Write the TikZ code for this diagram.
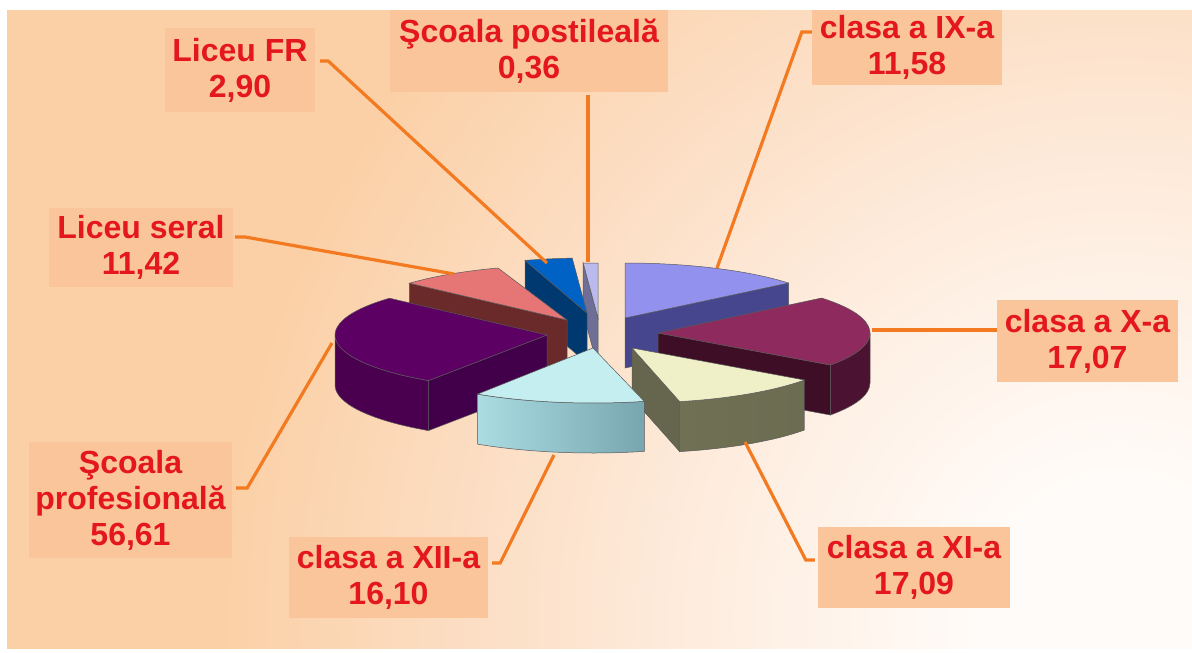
\documentclass[tikz,border=0pt]{standalone}
\usepackage{fontspec}
\usepackage{xcolor}
\usepackage{tikz}
\usetikzlibrary{calc}

\newfontfamily\lblfont{Liberation Sans}

\definecolor{bgpeach}{RGB}{251,208,166}
\definecolor{bgmid}{RGB}{252,222,196}
\definecolor{bgpale}{RGB}{254,238,225}
\definecolor{bglight}{RGB}{255,251,248}
\definecolor{boxpeach}{RGB}{250,197,155}
\definecolor{lblred}{RGB}{228,22,30}
\definecolor{leadorange}{RGB}{243,122,32}

\definecolor{posttop}{RGB}{186,186,238}
\definecolor{postside}{RGB}{110,110,150}
\definecolor{frtop}{RGB}{0,98,196}
\definecolor{frside}{RGB}{0,56,112}
\definecolor{seraltop}{RGB}{230,118,118}
\definecolor{seralside}{RGB}{106,42,42}
\definecolor{ixtop}{RGB}{146,146,238}
\definecolor{ixside}{RGB}{70,70,142}
\definecolor{proftop}{RGB}{92,0,100}
\definecolor{profside}{RGB}{74,0,79}
\definecolor{profface}{RGB}{67,0,74}
\definecolor{xtop}{RGB}{142,42,94}
\definecolor{xside}{RGB}{75,18,49}
\definecolor{xface}{RGB}{62,13,38}
\definecolor{xitop}{RGB}{240,240,200}
\definecolor{xisideL}{RGB}{112,112,84}
\definecolor{xisideM}{RGB}{152,152,120}
\definecolor{xisideR}{RGB}{108,108,82}
\definecolor{xiface}{RGB}{102,102,78}
\definecolor{xiitop}{RGB}{196,238,240}
\definecolor{xiisideL}{RGB}{170,220,226}
\definecolor{xiisideR}{RGB}{120,166,176}

\newcommand\pierx{212}
\newcommand\piery{55}
\newcommand\pieh{50}

\pgfdeclareradialshading{bgglow}{\pgfpoint{0bp}{0bp}}{color(0bp)=(bglight); color(2bp)=(bglight); color(5.5bp)=(bgpale); color(9bp)=(bgmid); color(12.5bp)=(bgpeach); color(50bp)=(bgpeach)}

\begin{document}
\begin{tikzpicture}[x=1pt, y=-1pt,
  lblbox/.style={fill=boxpeach, text=lblred, font=\lblfont\bfseries\fontsize{32}{36}\selectfont, align=center, inner sep=0pt},
  leader/.style={draw=leadorange, line width=3.2},
  rim/.style={draw=black!65, line width=0.5},
  ell/.style={x radius=\pierx, y radius=\piery}]

\useasboundingbox (0,0) rectangle (1192,653);
\fill[white] (0,0) rectangle (1192,653);
\begin{scope}
  \clip (7,10) rectangle (1192,648);
  \shade[shading=bgglow] (1120,620) circle (1800);
\end{scope}

\begin{scope}[shift={(598,318)}, yscale=-1]
  \filldraw[rim, fill=postside] (0,0) -- (94:212 and 55) -- ++(0,-\pieh) -- (0,-\pieh) -- cycle;
  \filldraw[rim, fill=posttop] (0,0) -- (90:212 and 55) arc[ell, start angle=90, end angle=94] -- cycle;
\end{scope}

\begin{scope}[shift={(587,313)}, yscale=-1]
  \filldraw[rim, fill=frside] (0,0) -- (107:212 and 55) -- ++(0,-\pieh) -- (0,-\pieh) -- cycle;
  \filldraw[rim, fill=frtop] (0,0) -- (94:212 and 55) arc[ell, start angle=94, end angle=107] -- cycle;
\end{scope}

\begin{scope}[shift={(567,320)}, yscale=-1]
  \filldraw[rim, fill=seralside] (0,0) -- (138:212 and 55) -- ++(0,-\pieh) -- (0,-\pieh) -- cycle;
  \filldraw[rim, fill=seraltop] (0,0) -- (109:212 and 55) arc[ell, start angle=109, end angle=138] -- cycle;
\end{scope}

\begin{scope}[shift={(625,318)}, yscale=-1]
  \filldraw[rim, fill=ixside] (0,0) -- (39.5:212 and 55) -- ++(0,-\pieh) -- (0,-\pieh) -- cycle;
  \filldraw[rim, fill=ixtop] (0,0) -- (39.5:212 and 55) arc[ell, start angle=39.5, end angle=90] -- cycle;
\end{scope}

\begin{scope}[shift={(547,335)}, yscale=-1]
  \filldraw[rim, fill=profside] (180:212 and 55) arc[ell, start angle=180, end angle=236] -- ++(0,-\pieh) arc[ell, start angle=236, end angle=180] -- cycle;
  \filldraw[rim, fill=profface] (0,0) -- (236:212 and 55) -- ++(0,-\pieh) -- (0,-\pieh) -- cycle;
  \filldraw[rim, fill=proftop] (0,0) -- (138:212 and 55) arc[ell, start angle=138, end angle=236] -- cycle;
\end{scope}

\begin{scope}[shift={(658,333)}, yscale=-1]
  \filldraw[rim, fill=xside] (-35.6:212 and 55) arc[ell, start angle=-35.6, end angle=0] -- ++(0,-\pieh) arc[ell, start angle=0, end angle=-35.6] -- cycle;
  \filldraw[rim, fill=xface] (0,0) -- (-35.6:212 and 55) -- ++(0,-\pieh) -- (0,-\pieh) -- cycle;
  \filldraw[rim, fill=xtop] (0,0) -- (-35.6:212 and 55) arc[ell, start angle=-35.6, end angle=39.5] -- cycle;
\end{scope}

\begin{scope}[shift={(632,348)}, yscale=-1]
  \shadedraw[rim, left color=xisideL, middle color=xisideM, right color=xisideR] (-77:212 and 55) arc[ell, start angle=-77, end angle=-35.6] -- ++(0,-\pieh) arc[ell, start angle=-35.6, end angle=-77] -- cycle;
  \filldraw[rim, fill=xiface] (0,0) -- (-77:212 and 55) -- ++(0,-\pieh) -- (0,-\pieh) -- cycle;
  \filldraw[rim, fill=xitop] (0,0) -- (-77:212 and 55) arc[ell, start angle=-77, end angle=-35.6] -- cycle;
\end{scope}

\begin{scope}[shift={(593,348)}, yscale=-1]
  \shadedraw[rim, left color=xiisideL, right color=xiisideR] (-123:212 and 55) arc[ell, start angle=-123, end angle=-76] -- ++(0,-\pieh) arc[ell, start angle=-76, end angle=-123] -- cycle;
  \filldraw[rim, fill=xiitop] (0,0) -- (-123:212 and 55) arc[ell, start angle=-123, end angle=-76] -- cycle;
\end{scope}

\node[lblbox, minimum width=150, minimum height=84] (lblFR) at (240,70) {Liceu FR\\2,90};
\node[lblbox, minimum width=278, minimum height=82] (lblPost) at (529,51) {Şcoala postileală\\0,36};
\node[lblbox, minimum width=190, minimum height=75] (lblIX) at (907,47.5) {clasa a IX-a\\11,58};
\node[lblbox, minimum width=181, minimum height=82] (lblX) at (1087.5,341) {clasa a X-a\\17,07};
\node[lblbox, minimum width=192, minimum height=81] (lblXI) at (914,567.5) {clasa a XI-a\\17,09};
\node[lblbox, minimum width=199, minimum height=81] (lblXII) at (388.5,577.5) {clasa a XII-a\\16,10};
\node[lblbox, minimum width=203, minimum height=116] (lblProf) at (130.5,500) {Şcoala\\profesională\\56,61};
\node[lblbox, minimum width=184, minimum height=79] (lblSeral) at (141,247.5) {Liceu seral\\11,42};

\coordinate (tipFR) at (547,263);
\coordinate (tipPost) at (588,262);
\coordinate (tipIX) at (717,268);
\coordinate (tipX) at (872,330);
\coordinate (tipXI) at (745,442);
\coordinate (tipXII) at (554,455);
\coordinate (tipProf) at (332,343);
\coordinate (tipSeral) at (454,274);

\draw[leader] ($(lblFR.east)+(5,-9)$) -- ++(8,0) -- (tipFR);
\draw[leader] ($(lblPost.south)+(59,3)$) -- (tipPost);
\draw[leader] ($(lblIX.west)+(0,-15.5)$) -- ++(-10,0) -- (tipIX);
\draw[leader] ($(lblX.west)+(0,-11)$) -- (tipX);
\draw[leader] ($(lblXI.west)+(-3,-7.5)$) -- ++(-9,0) -- (tipXI);
\draw[leader] ($(lblXII.east)+(4,-14.5)$) -- ++(8,0) -- (tipXII);
\draw[leader] ($(lblProf.east)+(4,-12)$) -- ++(11,0) -- (tipProf);
\draw[leader] ($(lblSeral.east)+(2,-10.5)$) -- ++(10,0) -- (tipSeral);

\end{tikzpicture}
\end{document}
